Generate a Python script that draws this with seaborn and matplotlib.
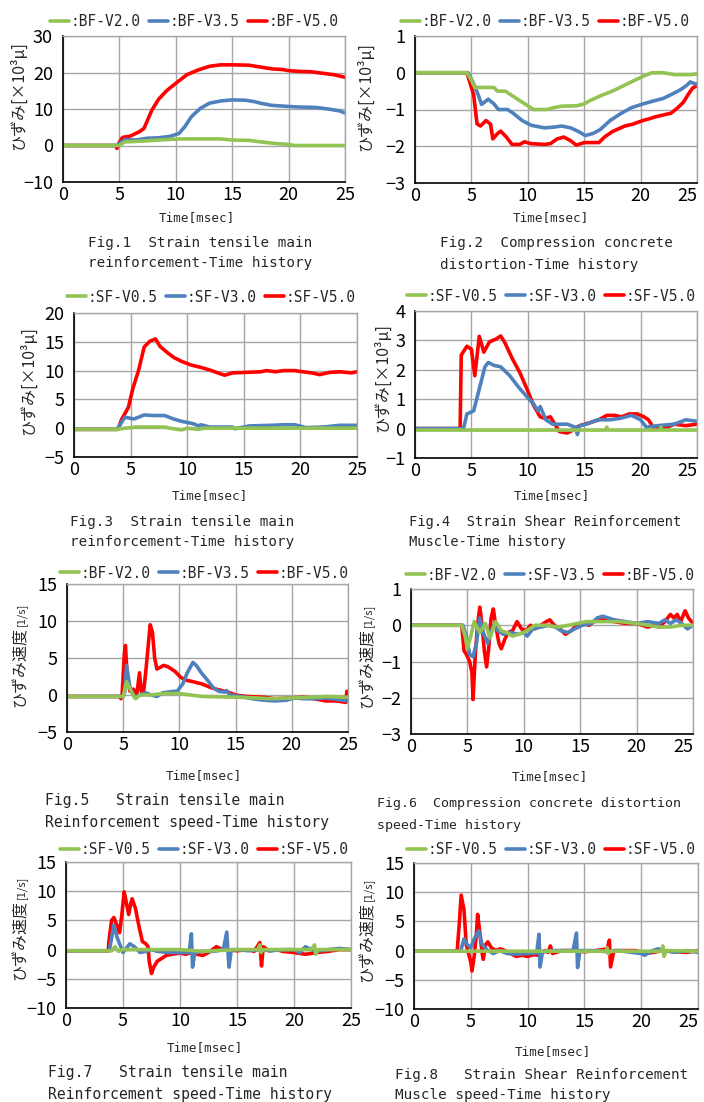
import matplotlib
matplotlib.use("Agg")
import matplotlib.pyplot as plt
from matplotlib import font_manager
import seaborn as sns
import pandas as pd

# ---- data (time [msec], value) ----
f1_green = [(0, 0), (5, 0), (5.5, 1.0), (7, 1.2), (9, 1.6), (10.5, 1.8), (14, 1.8), (15, 1.5), (16.5, 1.4),
            (17.5, 1.0), (19, 0.5), (20, 0.3), (20.5, 0), (25, 0)]
f1_blue = [(0, 0), (4.8, 0), (5.5, 1.6), (6.5, 1.5), (7.5, 2.0), (8.5, 2.1), (9.5, 2.5), (10.3, 3.3), (10.8, 5.1),
           (11.4, 7.9), (12.2, 10.2), (13, 11.6), (14, 12.2), (15, 12.5), (16.2, 12.4), (17, 12.0), (17.5, 11.6),
           (18.5, 11.0), (19.5, 10.8), (20.5, 10.6), (21.5, 10.5), (22.5, 10.4), (23.5, 10.0), (24.5, 9.5), (25, 8.9)]
f1_red = [(0, 0), (4.7, 0), (4.8, -0.8), (5.0, 0.8), (5.3, 2.2), (6.0, 2.6), (6.8, 3.8), (7.2, 4.7), (7.9, 9.7),
          (8.5, 12.7), (9.2, 15.0), (10, 17.0), (11, 19.4), (12, 20.7), (13, 21.7), (14, 22.1), (15, 22.1),
          (16.5, 22.0), (17.5, 21.5), (18.5, 21.0), (19.5, 20.8), (20, 20.5), (21, 20.3), (22, 20.2), (23, 19.8),
          (24, 19.4), (25, 18.7)]

f2_green = [(0, 0), (4.6, 0), (5.0, -0.2), (5.3, -0.4), (7.0, -0.4), (7.3, -0.5), (8.0, -0.5), (8.5, -0.6),
            (9.5, -0.8), (10.5, -1.0), (11.7, -1.0), (12.3, -0.95), (13, -0.91), (14.3, -0.9), (15, -0.85),
            (15.5, -0.76), (16.5, -0.62), (17.5, -0.5), (18.5, -0.35), (19.5, -0.2), (20.2, -0.1), (21, 0),
            (22, 0), (23, -0.05), (24.5, -0.05), (25, -0.03)]
f2_blue = [(0, 0), (4.7, 0), (5.2, -0.3), (5.6, -0.6), (5.9, -0.86), (6.5, -0.72), (7.0, -0.85), (7.4, -1.0),
           (8.2, -1.0), (8.7, -1.1), (9.5, -1.3), (10.3, -1.43), (11.5, -1.5), (12.3, -1.48), (13, -1.45),
           (13.8, -1.5), (14.5, -1.6), (15.1, -1.71), (15.8, -1.65), (16.4, -1.55), (17.3, -1.3), (18.3, -1.1),
           (19.2, -0.95), (20.2, -0.85), (21, -0.78), (22, -0.7), (23, -0.55), (23.6, -0.45), (24.1, -0.34),
           (24.4, -0.25), (24.8, -0.3), (25, -0.3)]
f2_red = [(0, 0), (4.6, 0), (4.8, -0.2), (5.2, -0.6), (5.5, -1.39), (5.8, -1.45), (6.3, -1.3), (6.7, -1.4),
          (6.9, -1.8), (7.3, -1.66), (7.6, -1.59), (8.1, -1.75), (8.6, -1.95), (9.3, -1.95), (9.7, -1.88),
          (10.3, -1.93), (11.5, -1.95), (12.0, -1.93), (12.6, -1.8), (13.2, -1.75), (13.8, -1.85), (14.3, -1.97),
          (15, -1.9), (16.3, -1.9), (16.8, -1.75), (17.5, -1.6), (18.6, -1.45), (19.3, -1.4), (20.2, -1.3),
          (20.8, -1.25), (21.3, -1.2), (22, -1.15), (22.7, -1.1), (23.3, -0.95), (23.8, -0.8), (24.2, -0.6),
          (24.6, -0.42), (25, -0.35)]

f3_green = [(0, -0.2), (3.8, -0.2), (4.5, 0), (5.5, 0.2), (8, 0.2), (8.5, 0), (9.5, -0.3), (10, 0), (11, -0.2),
            (11.5, 0), (25, 0)]
f3_blue = [(0, -0.2), (3.8, -0.2), (4.5, 1.9), (5.3, 1.6), (6.2, 2.3), (7, 2.2), (8, 2.2), (8.8, 1.6), (9.5, 1.2),
           (10.5, 0.8), (11, 0.4), (11.2, 0.6), (12, 0.2), (14, 0.2), (14.2, -0.1), (15.5, 0.4), (17.5, 0.5),
           (18.5, 0.6), (19.5, 0.6), (20.5, 0.1), (22, 0.2), (23.5, 0.5), (25, 0.5)]
f3_red = [(0, -0.2), (3.9, -0.2), (4.2, 1.5), (4.8, 3.6), (5.2, 6.9), (5.7, 10.0), (6.2, 14.1), (6.7, 15.1),
          (7.2, 15.5), (7.6, 14.2), (8.2, 13.2), (8.8, 12.3), (9.5, 11.6), (10.3, 11.0), (11.3, 10.5), (12, 10.1),
          (12.7, 9.6), (13.3, 9.2), (14, 9.6), (15.3, 9.7), (16.5, 9.8), (17, 10.0), (17.8, 9.8), (18.5, 10.0),
          (19.5, 10.0), (20.2, 9.8), (21, 9.6), (21.7, 9.3), (22.6, 9.7), (23.5, 9.8), (24.5, 9.6), (25, 9.8)]

f4_green = [(0, -0.05), (16.9, -0.05), (17, 0.05), (17.1, -0.05), (21.7, -0.05), (21.8, 0.05), (21.9, -0.05),
            (25, -0.05)]
f4_blue = [(0, 0), (4.3, 0), (4.6, 0.5), (5.2, 0.6), (5.8, 1.5), (6.2, 2.1), (6.5, 2.25), (7, 2.15), (7.6, 2.1),
           (8.4, 1.8), (9.2, 1.4), (10, 1.05), (10.5, 0.85), (10.9, 0.6), (11.1, 0.75), (11.6, 0.3), (12.2, 0.15),
           (13.5, 0.15), (14.2, 0.05), (14.4, -0.2), (14.6, 0.1), (15.2, 0.15), (16.2, 0.3), (17.3, 0.3),
           (18.2, 0.35), (19.2, 0.45), (20, 0.3), (20.5, 0.05), (21.5, 0.1), (23, 0.15), (24, 0.3), (25, 0.25)]
f4_red = [(0, 0), (4.0, 0), (4.1, 2.5), (4.6, 2.8), (5.0, 2.7), (5.3, 1.8), (5.7, 3.14), (6.1, 2.6), (6.6, 2.95),
          (7.2, 3.05), (7.6, 3.15), (8.0, 2.9), (8.6, 2.4), (9.3, 1.9), (10, 1.28), (10.5, 0.8), (11.1, 0.4),
          (11.5, 0.35), (12, 0.4), (12.4, 0.15), (12.8, -0.1), (13.5, -0.15), (14, -0.05), (14.6, 0.1),
          (15.5, 0.2), (16.3, 0.3), (17, 0.45), (17.7, 0.45), (18.3, 0.4), (19, 0.5), (19.7, 0.5), (20.3, 0.4),
          (20.7, 0.3), (21.1, 0.05), (22, 0), (23, 0.15), (24, 0.1), (25, 0.15)]

f5_green = [(0, -0.2), (5, -0.2), (5.3, 1.8), (5.7, 0.5), (6.1, -0.5), (6.5, 0), (7.5, 0), (8.5, 0.2), (10, 0.2),
            (11, 0), (12, -0.2), (15, -0.3), (17, -0.4), (18, -0.5), (20, -0.4), (22, -0.3), (23, -0.2),
            (25, -0.3)]
f5_blue = [(0, -0.2), (5, -0.2), (5.15, 0.5), (5.3, 4.0), (5.6, 1.0), (6.0, -0.3), (6.5, 0), (7, 0.3), (7.5, 0),
           (8, -0.2), (8.5, 0.3), (9.5, 0.5), (9.8, 0.5), (10.3, 1.5), (10.7, 3.0), (11.2, 4.4), (11.5, 4.0),
           (12, 2.9), (12.5, 2.0), (13, 1.0), (13.5, 0.5), (14, 0.4), (14.2, 0.6), (14.5, 0), (15.5, -0.2),
           (16.5, -0.5), (17.5, -0.7), (18.5, -0.8), (19.5, -0.7), (20.3, -0.4), (21, -0.5), (22, -0.5),
           (23, -0.4), (24, -0.6), (25, -0.8)]
f5_red = [(0, -0.2), (4.7, -0.2), (4.8, -0.5), (4.9, 0), (5.1, 5.5), (5.2, 6.7), (5.35, 2.5), (5.6, 0.5),
          (5.9, 0.8), (6.2, 0), (6.45, 3.0), (6.6, 0.5), (6.8, 0.3), (7.0, 3.0), (7.4, 9.5), (7.6, 8.5),
          (7.8, 5.0), (8.0, 3.5), (8.6, 4.0), (9.0, 3.8), (9.6, 3.2), (10.1, 2.4), (10.6, 2.0), (11.2, 1.8),
          (12, 1.5), (12.8, 1.0), (13.5, 0.7), (14.3, 0.4), (15, 0), (16, -0.2), (17.5, -0.3), (18.5, -0.5),
          (20, -0.4), (21, -0.3), (22, -0.5), (23, -0.8), (24, -0.8), (24.8, -1.0), (24.9, 0.5), (25, -0.8)]

f6_green = [(0, 0), (4.5, 0), (4.8, -0.3), (5.0, -0.65), (5.3, -0.3), (5.6, 0.1), (6.1, -0.2), (6.6, 0.05),
            (7.0, -0.35), (7.5, 0.1), (8.0, -0.15), (8.5, -0.2), (9.0, -0.3), (9.5, -0.25), (10, -0.2),
            (10.5, -0.1), (11, 0), (12, 0), (13, -0.05), (14, 0), (15.5, 0.1), (17, 0.1), (18.5, 0.1), (20, 0.05),
            (21, 0), (22, -0.05), (23, -0.05), (24, 0), (25, 0)]
f6_blue = [(0, 0), (4.6, 0), (4.9, -0.3), (5.2, -0.8), (5.5, -0.87), (5.8, -0.5), (6.1, 0.2), (6.4, -0.2),
           (6.8, -0.5), (7.0, -0.3), (7.3, 0), (7.7, -0.15), (8.2, -0.25), (8.8, -0.2), (9.5, -0.25), (10, -0.2),
           (10.3, -0.3), (10.8, -0.1), (11.5, -0.05), (12.2, 0), (12.8, -0.05), (13.3, -0.15), (13.9, -0.2),
           (14.5, -0.1), (15.2, 0), (16, 0.05), (16.5, 0.2), (17, 0.25), (17.5, 0.2), (18, 0.15), (19, 0.1),
           (20, 0.05), (21, 0.1), (22, 0.05), (22.5, 0.15), (23, 0.05), (23.5, 0.15), (24, 0.05), (24.5, -0.1),
           (25, 0)]
f6_red = [(0, 0), (4.5, 0), (4.7, -0.7), (4.9, -0.8), (5.2, -1.0), (5.4, -1.3), (5.5, -2.05), (5.7, -0.8),
          (5.9, 0), (6.1, 0.5), (6.3, 0), (6.5, -0.7), (6.7, -1.15), (6.9, -0.6), (7.1, 0.2), (7.3, 0.45),
          (7.5, 0), (7.8, -0.5), (8.0, -0.65), (8.3, -0.4), (8.6, -0.2), (9.0, -0.15), (9.4, 0.1), (9.8, -0.1),
          (10.2, -0.15), (10.6, 0), (11, -0.1), (11.5, 0), (12, 0.1), (12.3, 0.15), (12.7, 0), (13.2, -0.1),
          (13.7, -0.25), (14.2, -0.15), (14.7, 0), (15.3, 0.05), (15.8, 0), (16.2, 0.1), (17, 0.15), (18, 0.1),
          (19, 0.05), (20, 0.05), (21, -0.05), (21.5, 0), (22, -0.05), (22.5, 0.1), (23, 0.3), (23.3, 0.2),
          (23.6, 0.3), (23.9, 0.1), (24.3, 0.4), (24.6, 0.2), (25, 0.05)]

f7_green = [(0, -0.2), (4, -0.2), (4.3, 0.5), (4.6, -0.3), (5, 0), (10, 0), (12, -0.3), (15, 0), (16.8, 0),
            (17.0, 0.8), (17.1, -0.5), (17.3, 0), (21.5, 0), (21.8, 0.8), (21.9, -0.8), (22.1, 0), (25, 0)]
f7_blue = [(0, -0.2), (3.8, -0.2), (4.2, 4.2), (4.5, 2.0), (5.0, -0.5), (5.2, 0), (5.6, 1.0), (6, 0.5),
           (6.5, -0.5), (7, -0.3), (7.5, 0), (8, -0.3), (9, -0.5), (10, -0.5), (10.8, -0.5), (11.0, 2.7),
           (11.1, -3.0), (11.3, -0.5), (12, -0.3), (13, -0.3), (13.8, 0), (14.1, 3.0), (14.3, -3.0), (14.5, 0),
           (15, 0), (16, -0.2), (17, 0), (18, -0.2), (19, 0), (20, 0), (20.5, -0.5), (21, 0.5), (21.5, 0),
           (22, -0.3), (23, 0), (24, 0.2), (25, 0)]
f7_red = [(0, -0.2), (3.7, -0.2), (3.8, 2.0), (4.0, 5.0), (4.2, 5.5), (4.5, 4.0), (4.7, 2.9), (4.9, 6.0),
          (5.1, 9.9), (5.3, 8.0), (5.5, 6.0), (5.7, 8.0), (5.8, 8.7), (6.1, 7.0), (6.4, 4.0), (6.7, 1.4),
          (7.0, 1.0), (7.2, 0.5), (7.3, -2.0), (7.5, -4.1), (7.7, -3.0), (8, -2.0), (8.4, -1.5), (8.8, -1.0),
          (9.3, -0.8), (10, -0.6), (10.5, -0.8), (11, -0.5), (11.5, -0.8), (12, -1.0), (12.5, -0.5), (13.2, 0.5),
          (13.5, 0.2), (14, 0), (15, -0.2), (16, 0), (16.5, -0.3), (17.0, 1.2), (17.15, -2.8), (17.3, 0.5),
          (17.8, -0.2), (18.5, 0), (19, -0.3), (20, -0.5), (21, -0.8), (22, -0.5), (23, -0.3), (24, 0), (25, 0)]

f8_green = [(0, -0.1), (16.9, -0.1), (17.0, 0.5), (17.1, -0.5), (17.3, -0.1), (21.8, -0.1), (21.9, 0.8),
            (22.0, -1.0), (22.2, 0), (25, -0.1)]
f8_blue = [(0, -0.1), (4.1, -0.1), (4.4, 2.0), (4.7, 1.0), (5.0, 0.5), (5.3, 2.0), (5.7, 3.4), (6, 1.0),
           (6.5, 0), (7, -0.5), (7.5, 0), (8.2, -0.5), (9, -0.6), (10, -0.5), (10.8, -0.4), (11.0, 2.8),
           (11.1, -2.8), (11.3, -0.3), (12, 0), (14, 0), (14.3, 3.0), (14.4, -2.9), (14.6, 0), (16, 0),
           (17, -0.2), (18, 0), (20, -0.5), (20.3, -0.8), (21, 0), (21.5, 0.3), (22, 0), (23, -0.3), (24, 0),
           (25, -0.3)]
f8_red = [(0, -0.1), (3.8, -0.1), (4.0, 5.0), (4.15, 9.5), (4.4, 7.0), (4.6, 1.0), (4.8, -0.5), (5.0, -2.0),
          (5.1, -3.5), (5.3, -1.0), (5.5, 3.0), (5.6, 6.2), (5.8, 3.0), (6.0, -0.5), (6.1, -1.5), (6.3, 1.0),
          (6.5, 1.5), (6.8, 0.5), (7.2, 0), (7.6, 0.3), (8, 0), (8.5, -0.5), (9, -1.0), (9.5, -0.8), (10, -1.0),
          (10.5, -0.7), (11, -0.8), (11.5, 0), (11.8, -0.3), (12, 0.8), (12.2, -0.5), (13, 0), (14, 0),
          (15, -0.2), (16, 0), (17, 0.3), (17.2, 1.8), (17.3, -2.8), (17.6, 0), (18.5, 0), (19.5, 0),
          (20.5, -0.5), (21, -0.3), (22, 0), (23, -0.2), (24, -0.3), (25, 0)]

bf_labels = [":BF-V2.0", ":BF-V3.5", ":BF-V5.0"]
bf6_labels = [":BF-V2.0", ":SF-V3.5", ":BF-V5.0"]
sf_labels = [":SF-V0.5", ":SF-V3.0", ":SF-V5.0"]

ylab_strain = "ひずみ[×10³μ]"
ylab_speed = ("ひずみ速度", "[1/s]")

captions = [
    ("Fig.1  Strain tensile main", "reinforcement-Time history"),
    ("Fig.2  Compression concrete", "distortion-Time history"),
    ("Fig.3  Strain tensile main", "reinforcement-Time history"),
    ("Fig.4  Strain Shear Reinforcement", "Muscle-Time history"),
    ("Fig.5   Strain tensile main", "Reinforcement speed-Time history"),
    ("Fig.6  Compression concrete distortion", "speed-Time history"),
    ("Fig.7   Strain tensile main", "Reinforcement speed-Time history"),
    ("Fig.8   Strain Shear Reinforcement", "Muscle speed-Time history"),
]

y_ranges = [(-10, 30, 10), (-3, 1, 1), (-5, 20, 5), (-1, 4, 1),
            (-5, 15, 5), (-3, 1, 1), (-10, 15, 5), (-10, 15, 5)]

panel_series = [(f1_green, f1_blue, f1_red), (f2_green, f2_blue, f2_red),
                (f3_green, f3_blue, f3_red), (f4_green, f4_blue, f4_red),
                (f5_green, f5_blue, f5_red), (f6_green, f6_blue, f6_red),
                (f7_green, f7_blue, f7_red), (f8_green, f8_blue, f8_red)]
panel_labels = [bf_labels, bf_labels, sf_labels, sf_labels, bf_labels, bf6_labels, sf_labels, sf_labels]

# ---- layout (pixels in a 704x1102 canvas) ----
W, H = 704, 1102
ax_px = [(62.7, 345, 36, 182), (415, 697, 36, 183), (74, 357, 313, 457), (415, 697, 311, 458),
         (67, 348, 584, 732), (411, 693, 589, 734), (66, 351, 862, 1008), (414, 698, 863, 1009)]
legend_px = [(194, 22), (545, 22), (211, 297), (551, 296), (204, 573), (550, 575), (204, 850), (551, 850)]
# strain panels: label centre; speed panels: x and bottom end of the label
ylabel_px = [(18, 96), (365, 97), (28, 381), (382, 378), (20, 707), (367, 708), (20, 980), (367, 982)]
xlabel_px = [(197, 218), (551, 218), (210, 496), (552, 496), (204, 776), (550, 777), (205, 1048), (553, 1052)]
caption_px = [(88, 243, 263), (440, 243, 265), (70, 522, 542), (409, 522, 542),
              (45, 801, 823), (377, 803, 825), (48, 1073, 1094), (395, 1075, 1095)]
# width of one character in the reference, px
caption_char = [8.6, 8.6, 8.6, 8.3, 8.9, 8.0, 8.9, 8.6]
legend_char = 8.75
time_char = 7.6

colors = ["#92c353", "#4f81bd", "#ff0000"]

sns.set_theme(style="white")
plt.rcParams["font.family"] = ["Noto Sans CJK JP", "DejaVu Sans"]

# a half-width monospace face like the original's gothic, if there is one
installed = {f.name for f in font_manager.fontManager.ttflist}
if "Noto Sans Mono CJK JP" in installed:
    mono, advance = ["Noto Sans Mono CJK JP", "DejaVu Sans Mono"], 0.5
else:
    mono, advance = ["DejaVu Sans Mono", "Noto Sans CJK JP"], 0.602


def char_pt(px):
    return px / advance * 72 / 100


def fx(px):
    return px / W


def fy(py):
    return 1 - py / H


fig = plt.figure(figsize=(W / 100, H / 100), dpi=100)

for i in range(8):
    l, r, t, b = ax_px[i]
    ax = fig.add_axes([fx(l), fy(b), (r - l) / W, (b - t) / H])
    # red first, green on top
    for k in (2, 1, 0):
        df = pd.DataFrame(panel_series[i][k], columns=["t", "v"])
        sns.lineplot(data=df, x="t", y="v", ax=ax, color=colors[k], linewidth=2.6,
                     estimator=None, sort=False, label=panel_labels[i][k])
    lo, hi, step = y_ranges[i]
    ax.set_xlim(0, 25)
    ax.set_ylim(lo, hi)
    ax.set_xticks(range(0, 26, 5))
    ax.set_yticks(range(lo, hi + 1, step))
    ax.set_xlabel("")
    ax.set_ylabel("")
    ax.grid(True, color="#a6a6a6", linewidth=1.0)
    ax.tick_params(length=0, labelsize=13, labelcolor="black")
    ax.tick_params(axis="y", pad=7)
    ax.tick_params(axis="x", pad=3)
    if i % 2 == 1:
        # right-hand column: keep the last label inside the canvas
        ax.get_xticklabels()[-1].set_horizontalalignment("right")
    for side in ("top", "right"):
        ax.spines[side].set_color("#a6a6a6")
        ax.spines[side].set_linewidth(1.0)
    for side in ("left", "bottom"):
        ax.spines[side].set_color("#000000")
        ax.spines[side].set_linewidth(1.2)

    handles, labs = ax.get_legend_handles_labels()
    lx, ly = legend_px[i]
    ax.legend(handles[::-1], labs[::-1], loc="center", ncol=3, frameon=False,
              bbox_to_anchor=(fx(lx), fy(ly)), bbox_transform=fig.transFigure,
              handlelength=1.3, handletextpad=0.1, columnspacing=0.6, borderpad=0,
              prop={"family": mono, "size": char_pt(legend_char)})

    yx, yy = ylabel_px[i]
    if i < 4:
        fig.text(fx(yx), fy(yy), ylab_strain, rotation=90, ha="center", va="center", fontsize=11.5)
    else:
        fig.text(fx(yx), fy(yy), ylab_speed[0], rotation=90, ha="center", va="bottom", fontsize=11.5)
        fig.text(fx(yx + 1), fy(yy - 81), ylab_speed[1], rotation=90, ha="center", va="bottom", fontsize=8)
    xx, xy = xlabel_px[i]
    fig.text(fx(xx), fy(xy), "Time[msec]", ha="center", va="center", fontsize=char_pt(time_char), family=mono)
    cx, cy1, cy2 = caption_px[i]
    cs = char_pt(caption_char[i])
    fig.text(fx(cx), fy(cy1), captions[i][0], ha="left", va="center", fontsize=cs, family=mono)
    fig.text(fx(cx), fy(cy2), captions[i][1], ha="left", va="center", fontsize=cs, family=mono)

fig.savefig("out.png", dpi=100, facecolor="white")
